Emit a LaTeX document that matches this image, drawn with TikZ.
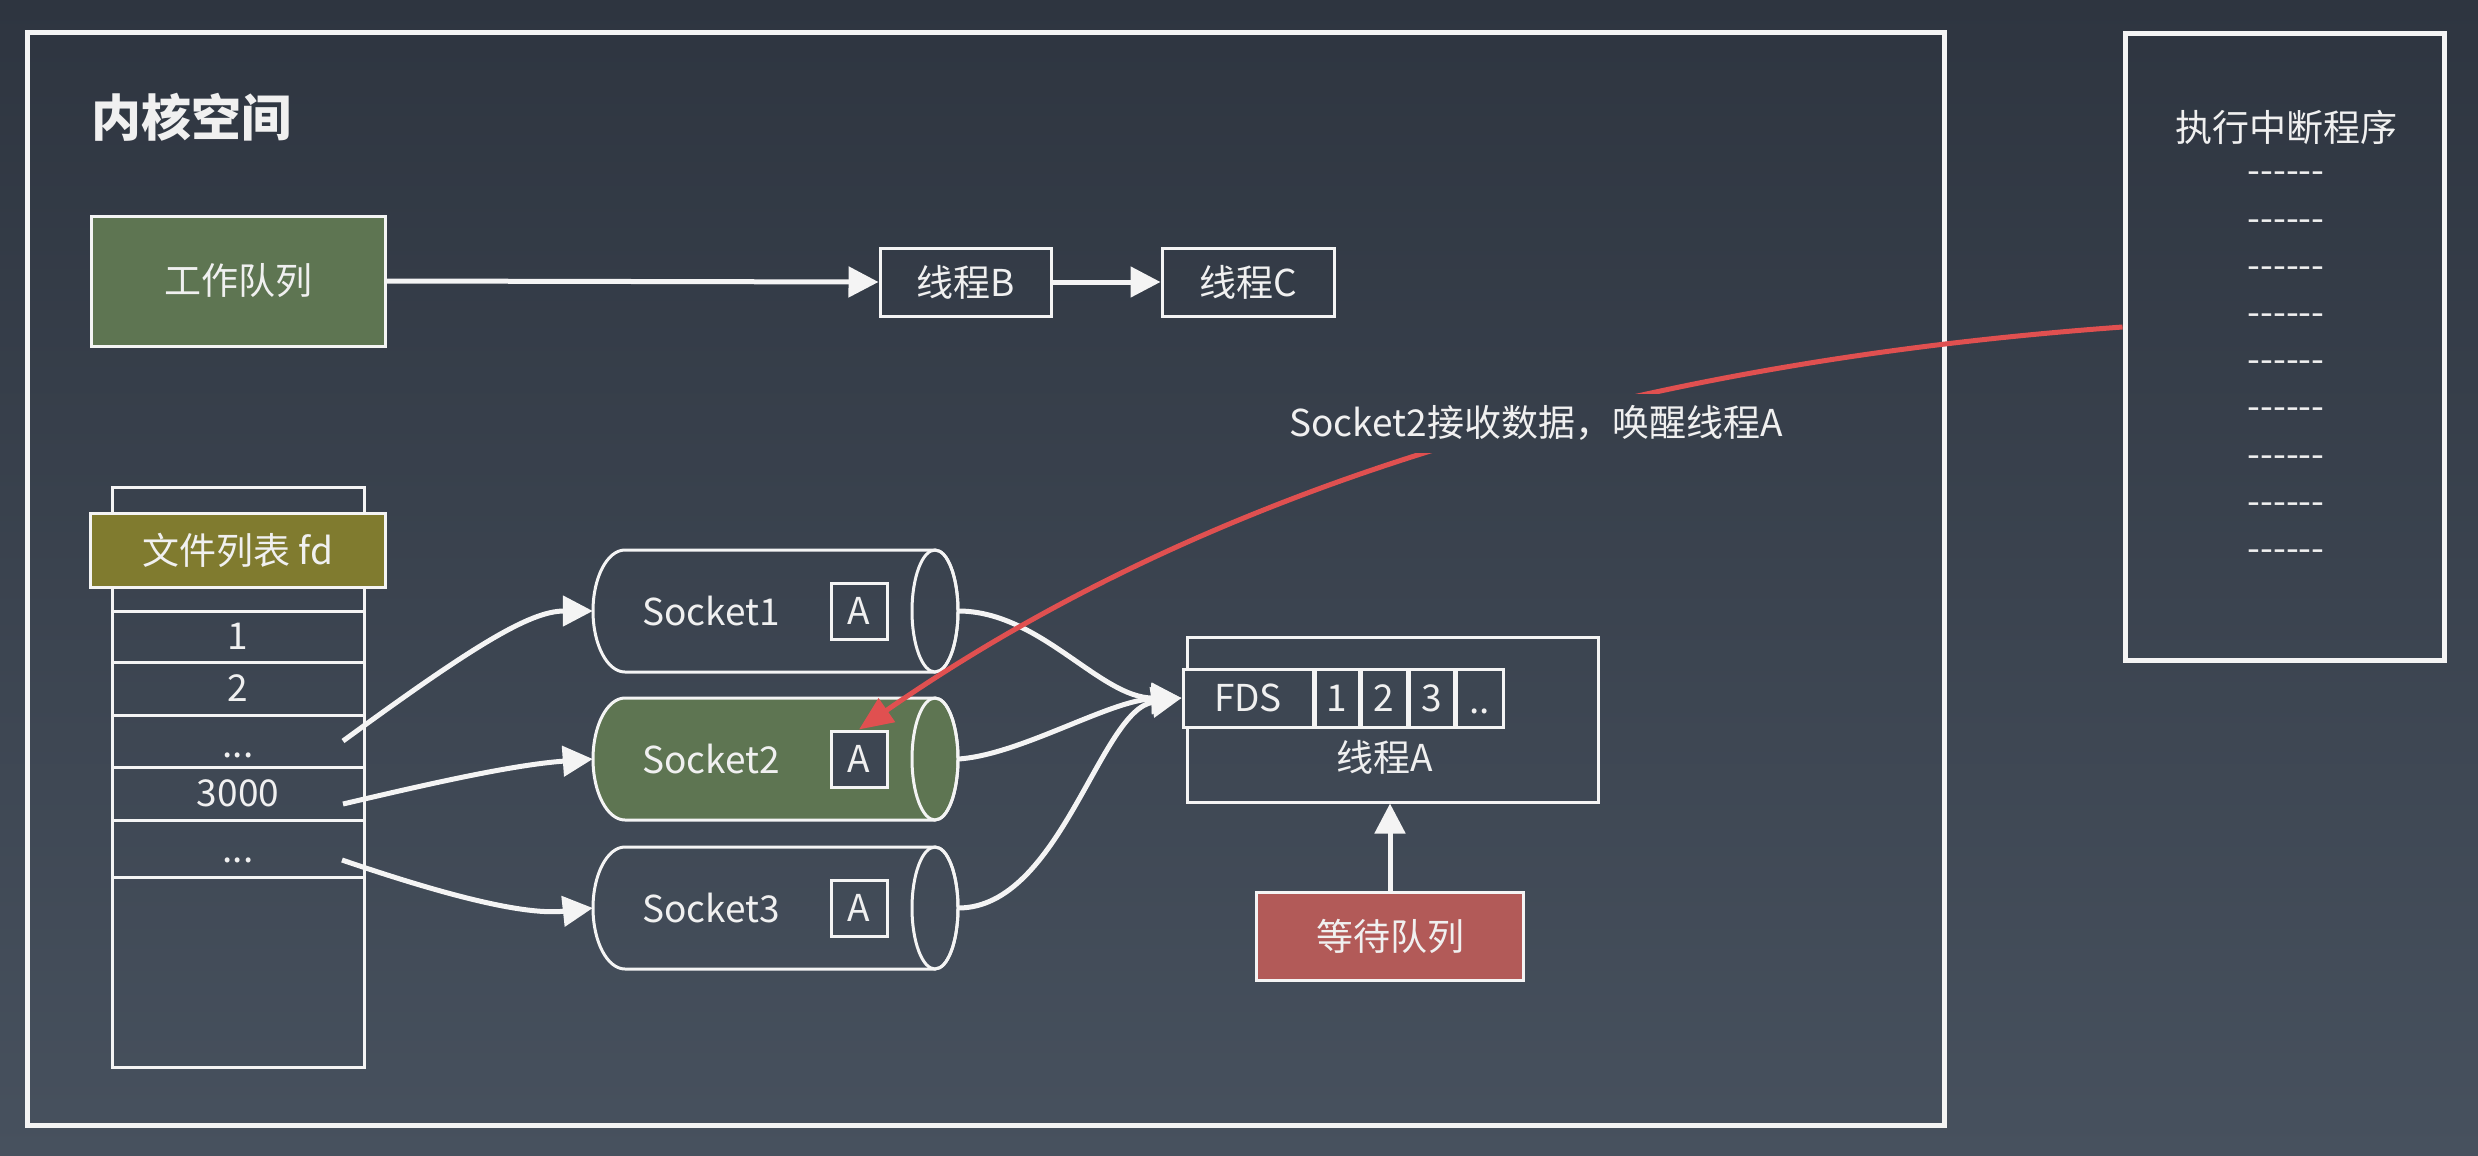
\documentclass[tikz,border=0pt]{standalone}
\usepackage{fontspec}
\setmainfont{Noto Sans CJK SC}
\newfontfamily\dashf{Noto Sans CJK SC}
\usetikzlibrary{arrows.meta}
\definecolor{bgtop}{HTML}{2E3540}
\definecolor{bgbot}{HTML}{47515E}
\definecolor{cellbg}{HTML}{3D4652}
\definecolor{gfill}{HTML}{5E7552}
\definecolor{ofill}{HTML}{807B2F}
\definecolor{rfill}{HTML}{B25A58}
\definecolor{redl}{HTML}{E05050}
\definecolor{linec}{HTML}{F4F4F4}
\definecolor{txtc}{HTML}{F0F0F0}
\newcommand\fsz[1]{\fontsize{#1pt}{#1pt}\selectfont}
\newcommand\sockbody[2]{%
  \path[draw=linec, line width=3pt, #2] (935,#1-61) -- (625,#1-61)
    arc[start angle=90, end angle=270, x radius=32pt, y radius=61pt]
    -- (935,#1+61)
    arc[start angle=-90, end angle=90, x radius=23pt, y radius=61pt] -- cycle;
  \draw[linec, line width=3pt] (935,#1) ellipse [x radius=23pt, y radius=61pt];
}
\begin{document}
\begin{tikzpicture}[x=1pt, y=-1pt,
  every node/.style={text=txtc, font=\fsz{37}},
  box/.style={draw=linec, line width=3pt, inner sep=0pt},
  conn/.style={draw=linec, line width=5pt, -{Triangle[length=30pt,width=30pt]}},
  redarrow/.style={draw=redl, line width=5pt, -{Triangle[length=34pt,width=28pt]}},
  sockhold/.style={minimum width=365pt, minimum height=122pt, inner sep=0pt},
  abox/.style={box, minimum width=56pt, minimum height=56pt},
  fdrow/.style={box, minimum width=252pt},
  basetext/.style={anchor=base, inner sep=0pt}]
\useasboundingbox (0,0) rectangle (2478,1156);
\shade[top color=bgtop, bottom color=bgbot] (0,0) rectangle (2478,1156);

% kernel frame
\node[box, line width=5pt, minimum width=1917pt, minimum height=1092pt] (kernel) at (985.5,579) {};
\node[font=\fsz{50}\bfseries] (title) at (191,117) {内核空间};

% work queue
\node[box, fill=gfill, minimum width=294pt, minimum height=130pt] (wq) at (238,281) {工作队列};
\node[box, minimum width=171pt, minimum height=68pt] (thB) at (965.5,282) {线程B};
\node[box, minimum width=172pt, minimum height=68pt] (thC) at (1248,282) {线程C};
\draw[conn] (wq.east) -- (thB.west);
\draw[conn] (thB.east) -- (thC.west);

% fd list
\node[box, minimum width=252pt, minimum height=580pt] (fdcol) at (238,777) {};
\node[fdrow, minimum height=51pt] (r1) at (238,636.5) {1};
\node[fdrow, minimum height=53pt] (r2) at (238,688.5) {2};
\node[fdrow, minimum height=52pt] (r3) at (238,741) {};
\node[fdrow, minimum height=53pt] (r4) at (238,793.5) {3000};
\node[fdrow, minimum height=57pt] (r5) at (238,848.5) {};
\node[basetext] (r3t) at (238,757) {...};
\node[basetext] (r5t) at (238,862) {...};
\node[box, fill=ofill, minimum width=295pt, minimum height=74pt] (fdh) at (237.5,550) {文件列表 fd};
\coordinate (f3) at (343,741);
\coordinate (f4) at (343,804);
\coordinate (f5) at (342,860);

% sockets
\sockbody{611}{}
\sockbody{759}{fill=gfill}
\sockbody{908}{}
\node[sockhold] (sk1) at (775.5,611) {};
\node[sockhold] (sk2) at (775.5,759) {};
\node[sockhold] (sk3) at (775.5,908) {};
\node (sk1t) at (711,611) {Socket1};
\node (sk2t) at (711,759) {Socket2};
\node (sk3t) at (711,908) {Socket3};
\node[abox] (a1) at (859,611) {A};
\node[abox, fill=cellbg] (a2) at (859,759) {A};
\node[abox] (a3) at (859,908) {A};

\draw[conn] (f3) .. controls (473,646) and (530,611) .. (sk1.west);
\draw[conn] (f4) .. controls (420,786) and (510,765) .. (sk2.west);
\draw[conn] (f5) .. controls (430,890) and (520,916) .. (sk3.west);

% thread A
\node[box, minimum width=411pt, minimum height=165pt] (thA) at (1392.5,719.5) {};
\node (thAt) at (1385,757) {线程A};
\node[box, fill=cellbg, minimum width=130pt, minimum height=58pt] (fds) at (1248,698) {FDS};
\node[box, fill=cellbg, minimum width=44pt, minimum height=58pt] (c1) at (1337,698) {1};
\node[box, fill=cellbg, minimum width=46pt, minimum height=58pt] (c2) at (1384,698) {2};
\node[box, fill=cellbg, minimum width=45pt, minimum height=58pt] (c3) at (1431.5,698) {3};
\node[box, fill=cellbg, minimum width=47pt, minimum height=58pt] (c4) at (1479.5,698) {};
\node[basetext] (c4t) at (1479.5,713) {..};

\draw[conn] (sk1.east) .. controls (1040,611) and (1100,698) .. (fds.west);
\draw[conn] (sk2.east) .. controls (1020,755) and (1110,700) .. (fds.west);
\draw[conn] (sk3.east) .. controls (1060,908) and (1100,710) .. (fds.west);

% wait queue
\node[box, fill=rfill, minimum width=267pt, minimum height=88pt] (wait) at (1390,936) {等待队列};
\draw[conn] (wait.north) -- (wait.north |- thA.south);

% interrupt box
\node[box, line width=5pt, minimum width=319pt, minimum height=626pt] (intr) at (2284.5,347) {};
\node (intrt) at (2286,127) {执行中断程序};
\foreach \k in {0,...,8}
  \node[font=\dashf\fsz{37}] (d\k) at (2286,178+47.2*\k) {------};

% red arrow with label
\draw[redarrow] ([yshift=20pt]intr.west) .. controls (1780,352) and (1290,430) .. (a2.north);
\begin{scope}
  \clip (1280,394) rectangle (1795,452);
  \shade[top color=bgtop, bottom color=bgbot] (0,0) rectangle (2478,1156);
\end{scope}
\node (lbl) at (1536,423) {Socket2接收数据，唤醒线程A};
\end{tikzpicture}
\end{document}
